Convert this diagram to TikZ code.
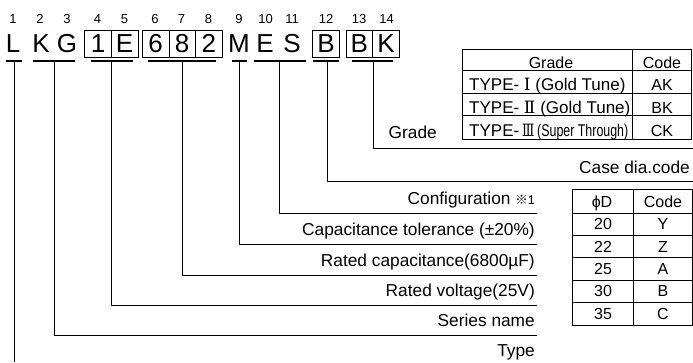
\documentclass[tikz,border=0pt]{standalone}
\usepackage{fontspec}
\setmainfont{Liberation Sans}
\newfontfamily\cjkfont{Noto Sans CJK JP}
\newfontfamily\romfont{DejaVu Serif}
\begin{document}
\begin{tikzpicture}[x=1pt,y=-1pt,
  num/.style={font=\fontsize{13}{13}\selectfont, inner sep=0, anchor=base},
  ltr/.style={font=\fontsize{26}{26}\selectfont, inner sep=0, text height=18.5pt, text depth=0pt, minimum height=27pt, minimum width=26.6pt},
  cell/.style={ltr, draw, line width=0.8pt},
  lbl/.style={font=\fontsize{17.3}{17.3}\selectfont, anchor=base east, inner sep=0},
  tb/.style={font=\fontsize{16}{16}\selectfont, inner sep=0, anchor=base},
  tbl/.style={tb, font=\fontsize{17}{17}\selectfont, anchor=base west},
  ul/.style={line width=1.6pt},
  ld/.style={line width=1pt},
  grid/.style={line width=0.8pt}]
\useasboundingbox (0,0) rectangle (693,362);

% position numbers
\foreach \n/\x in {1/13,2/40,3/67,4/97.5,5/124.5,6/155,7/181.5,8/208.5,9/239,10/265.5,11/292,12/326,13/359,14/386.5}
  \node[num] (n\n) at (\x,23) {\n};

% code letters
\node[ltr] (cL) at (13,43.5) {L};
\node[ltr] (cK) at (41,43.5) {K};
\node[ltr] (cG) at (67,43.5) {G};
\node[cell] (c1) at (98,43.5) {1};
\node[cell] (cE) at (124.6,43.5) {E};
\node[cell] (c6) at (155.6,43.5) {6};
\node[cell] (c8) at (182.2,43.5) {8};
\node[cell] (c2) at (208.8,43.5) {2};
\node[ltr] (cM) at (239,43.5) {M};
\node[ltr] (cE2) at (265,43.5) {E};
\node[ltr] (cS) at (292,43.5) {S};
\node[cell] (cB) at (326,43.5) {B};
\node[cell] (cB2) at (359.4,43.5) {B};
\node[cell] (cK2) at (386,43.5) {K};

% underlines
\draw[ul] (6,61) -- (22,61);
\draw[ul] (33,61) -- (75,61);
\draw[ul] (91,61) -- (133,61);
\draw[ul] (148,61) -- (216,61);
\draw[ul] (232,61) -- (247,61);
\draw[ul] (254,61) -- (306,61);
\draw[ul] (313,61) -- (339,61);
\draw[ul] (352,61) -- (393,61);

% connector start points
\coordinate (sL)  at (14,61);
\coordinate (sKG) at (54,61);
\coordinate (s1E) at (111,61);
\coordinate (s682) at (182,61);
\coordinate (sM)  at (239,61);
\coordinate (sES) at (279,61);
\coordinate (sB)  at (327,61);
\coordinate (sBK) at (373,61);

% connector end points
\coordinate (eL)  at (14,362);
\coordinate (eKG) at (537,335);
\coordinate (e1E) at (537,305);
\coordinate (e682) at (537,275);
\coordinate (eM)  at (537,244);
\coordinate (eES) at (537,213);
\coordinate (eB)  at (693,181);
\coordinate (eBK) at (693,148);

\draw[ld] (sL) -- (eL);
\draw[ld] (sKG) |- (eKG);
\draw[ld] (s1E) |- (e1E);
\draw[ld] (s682) |- (e682);
\draw[ld] (sM) |- (eM);
\draw[ld] (sES) |- (eES);
\draw[ld] (sB) |- (eB);
\draw[ld] (sBK) |- (eBK);

% labels
\node[lbl] (lType) at (535,356) {Type};
\node[lbl] (lSer) at (535,326) {Series name};
\node[lbl] (lVolt) at (535,296) {Rated voltage(25V)};
\node[lbl] (lCap) at (535,266) {Rated capacitance(6800\textmu F)};
\node[lbl] (lTol) at (535,235) {Capacitance tolerance (±20\%)};
\node[lbl] (lConf) at (535,204) {Configuration {\cjkfont\fontsize{12.5}{12.5}\selectfont ※}{\fontsize{12.5}{12.5}\selectfont 1}};
\node[lbl] (lCase) at (690,173) {Case dia.code};
\node[lbl] (lGrade) at (437,138) {Grade};

% Grade table
\draw[grid] (462,49) rectangle (691,139);
\draw[grid] (462,70.7) -- (691,70.7);
\draw[grid] (462,93.3) -- (691,93.3);
\draw[grid] (462,115.5) -- (691,115.5);
\draw[grid] (632,49) -- (632,139);
\node[tb] (gh1) at (551,68.3) {Grade};
\node[tb] (gh2) at (662,68.3) {Code};
\node[tbl] (g11) at (469,90.7) {TYPE- {\romfont Ⅰ} (Gold Tune)};
\node[tb] (g12) at (662,90.7) {AK};
\node[tbl] (g21) at (469,113) {TYPE- {\romfont Ⅱ} (Gold Tune)};
\node[tb] (g22) at (662,113) {BK};
\node[tbl] (g31) at (469,136) {TYPE-\,\scalebox{0.75}[1]{\romfont Ⅲ}\,\scalebox{0.73}[1]{(Super Through)}};
\node[tb] (g32) at (662,136) {CK};

% Case dia table
\draw[grid] (572,189) rectangle (692,325);
\foreach \y in {213.5,235.4,257.8,280.2,302.6}
  \draw[grid] (572,\y) -- (692,\y);
\draw[grid] (633,189) -- (633,325);
\node[tb] (dh1) at (602,207) {ϕD};
\node[tb] (dh2) at (663,207) {Code};
\foreach \d/\c/\i in {20/Y/1,22/Z/2,25/A/3,30/B/4,35/C/5}{
  \pgfmathsetmacro{\yb}{213.5+22.3*\i-6}
  \node[tb] (d\i a) at (603,\yb) {\d};
  \node[tb] (d\i b) at (663,\yb) {\c};
}
\end{tikzpicture}
\end{document}
